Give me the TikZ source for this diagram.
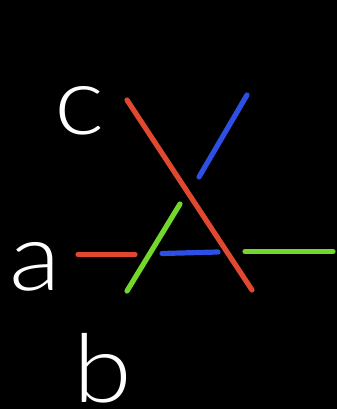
\documentclass[tikz,border=0pt]{standalone}
\usepackage{fontspec}
\newfontfamily\lblfont{Lato}[UprightFont={* Light},FakeStretch=1.12]
\usepackage{tikz}
\definecolor{strandred}{HTML}{E0492F}
\definecolor{strandblue}{HTML}{2E4FE3}
\definecolor{strandgreen}{HTML}{72D82B}

\begin{document}
\begin{tikzpicture}[
  x=1pt,y=-1pt,
  line cap=round,
  strand/.style={line width=5.2pt},
  label/.style={text=white,inner sep=0pt,anchor=base,
                font=\lblfont\fontsize{95}{95}\selectfont}
]
\fill[black] (0,0) rectangle (337,409);
\useasboundingbox (0,0) rectangle (337,409);

% labels
\node[label] (lc) at (80,134) {c};
\node[label] (la) at (35,290) {a};
\node[label] (lb) at (103,402) {b};

% red strand: over-crossing diagonal
\draw[strand,strandred] (78,254.5) -- (135,254.5);
\draw[strand,strandred] (127,100) -- (252,290);

% blue strand
\draw[strand,strandblue] (162,253.5) -- (218,252);
\draw[strand,strandblue] (199,177) -- (247,95);

% green strand
\draw[strand,strandgreen] (127,291) -- (180,204);
\draw[strand,strandgreen] (245,251.5) -- (333,251.5);
\end{tikzpicture}
\end{document}
